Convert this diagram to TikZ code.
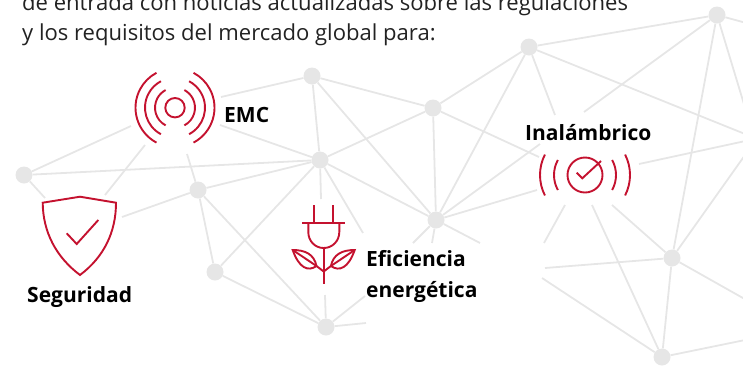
\documentclass[tikz,border=0pt]{standalone}
\usepackage{fontspec}
\setmainfont{Open Sans}
\definecolor{netgray}{HTML}{E6E6E6}
\definecolor{iconred}{HTML}{C4122F}
\definecolor{bodyink}{HTML}{222222}
\tikzset{
  hub/.style={circle,fill=netgray,draw=none,minimum size=17pt,inner sep=0pt},
  link/.style={draw=netgray,line width=1.8pt},
  icon/.style={draw=iconred,line width=1.9pt,line cap=butt,line join=miter},
  label/.style={inner sep=0pt,anchor=base west,text=black,font=\fontsize{21}{24}\selectfont\bfseries},
  body/.style={inner sep=0pt,anchor=base west,text=bodyink,font=\fontsize{22.05}{24}\selectfont}
}
\begin{document}
\begin{tikzpicture}[x=1pt,y=-1pt]
\useasboundingbox (0,0) rectangle (743,365);
\clip (0,0) rectangle (743,365);
% hubs
\node[hub] (A) at (24,175) {};
\node[hub] (B) at (198,190) {};
\node[hub] (C) at (320,160) {};
\node[hub] (D) at (312,76) {};
\node[hub] (E) at (433,108) {};
\node[hub] (F) at (529,47) {};
\node[hub] (G) at (717,15) {};
\node[hub] (H) at (436,220) {};
\node[hub] (I) at (215,272) {};
\node[hub] (J) at (326,327) {};
\node[hub] (K) at (672,258) {};
\node[hub] (L) at (662,357) {};
% free ends
\coordinate (c1) at (131,126);
\coordinate (c2) at (45,198);
\coordinate (c3) at (221,97);
\coordinate (c4) at (220,125);
\coordinate (c5) at (187,154);
\coordinate (c6) at (145,145);
\coordinate (c7) at (105,195);
\coordinate (c8) at (122,217);
\coordinate (c9) at (321,199);
\coordinate (c10) at (363,233);
\coordinate (c11) at (539,157);
\coordinate (c12) at (555,115);
\coordinate (c13) at (750,136);
\coordinate (c14) at (584,112);
\coordinate (c15) at (540,144);
\coordinate (c16) at (537,190);
\coordinate (c17) at (413,243);
\coordinate (c18) at (432,243);
\coordinate (c19) at (480,243);
\coordinate (c20) at (542,278);
\coordinate (c21) at (750,124);
\coordinate (c22) at (750,24);
\coordinate (c23) at (750,148);
\coordinate (c24) at (750,302);
\coordinate (c25) at (545,268);
\coordinate (c26) at (750,339);
\coordinate (c27) at (565,205);
\coordinate (c28) at (544,243);
\coordinate (c29) at (592,205);
\coordinate (c30) at (612,205);
\coordinate (c31) at (639,164);
\coordinate (c32) at (750,140);
\coordinate (c33) at (325,295);
\coordinate (c34) at (366,323);
\coordinate (c35) at (365,296);
% connectors
\foreach \a/\b in {A/C,A/c1,A/c2,D/c3,C/c4,B/c5,c6/c7,c8/B,B/C,B/I,B/J,I/C,I/J,C/D,C/E,C/H,C/c9,C/c10,
  D/E,D/H,E/F,E/H,E/c11,F/G,F/H,F/c12,F/c13,G/c14,H/c15,H/c16,H/c17,H/c18,H/c19,c20/L,G/K,G/c21,G/c22,
  K/c23,K/c24,K/L,K/c25,L/c26,c27/c28,c29/L,c30/K,c31/c32,J/c33,J/c34,J/c35}
  \draw[link] (\a) -- (\b);
% body text
\node[body] (t1) at (22,10) {de entrada con noticias actualizadas sobre las regulaciones};
\node[body] (t2) at (22,40.5) {y los requisitos del mercado global para:};
% EMC icon
\begin{scope}[shift={(175,107.7)}]
  \draw[icon] (0,0) circle (9.7);
  \foreach \r in {20,30,39.5}{
    \draw[icon] (118:\r) arc[start angle=-118,end angle=-242,x radius=\r,y radius=-\r];
    \draw[icon] (62:\r) arc[start angle=-62,end angle=62,x radius=\r,y radius=-\r];
  }
\end{scope}
\node[label] (emc) at (224,122.7) {EMC};
% wireless icon
\begin{scope}[shift={(585,175)}]
  \draw[icon] (0,0) circle (17.5);
  \draw[icon] (-8.3,-2.3) -- (-2.7,3.3) -- (16,-14);
  \draw[icon] (180-29:31) arc[start angle=-151,end angle=-209,x radius=31,y radius=-31];
  \draw[icon] (29:31) arc[start angle=-29,end angle=29,x radius=31,y radius=-31];
  \draw[icon] (180-27:45) arc[start angle=-153,end angle=-207,x radius=45,y radius=-45];
  \draw[icon] (27:45) arc[start angle=-27,end angle=27,x radius=45,y radius=-45];
\end{scope}
\node[label] (inal) at (525,140) {Inalámbrico};
% shield icon
\draw[icon] (80,196.7) -- (116,202.7) .. controls (116,232) and (104,257) .. (80,275)
  .. controls (56,257) and (43,232) .. (42.7,202.7) -- cycle;
\draw[icon] (66.7,233.3) -- (76.7,244) -- (98.3,220);
\node[label] (seg) at (27,302) {Seguridad};
% plug and leaves icon
\draw[icon] (314,205) -- (314,223);
\draw[icon] (332.7,205) -- (332.7,223);
\draw[icon] (302.3,223) -- (345,223);
\draw[icon] (308.3,223) -- (308.3,232) .. controls (308.3,241) and (315,248) .. (323.7,248)
  .. controls (332.4,248) and (339.3,241) .. (339.3,232) -- (339.3,223);
\draw[icon] (323.7,248) -- (323.7,284.3);
\draw[icon] (292.7,250) .. controls (305,250) and (314,254) .. (316.5,266)
  .. controls (308,272) and (299,268) .. cycle;
\draw[icon] (292.7,250) -- (316.5,266) -- (323.7,271.5) -- (330.9,266) -- (354.7,250);
\draw[icon] (354.7,250) .. controls (342.4,250) and (333.4,254) .. (330.9,266)
  .. controls (339.4,272) and (348.4,268) .. cycle;
\node[label] (ef1) at (366,266) {Eficiencia};
\node[label] (ef2) at (366,297) {energética};
\end{tikzpicture}
\end{document}
